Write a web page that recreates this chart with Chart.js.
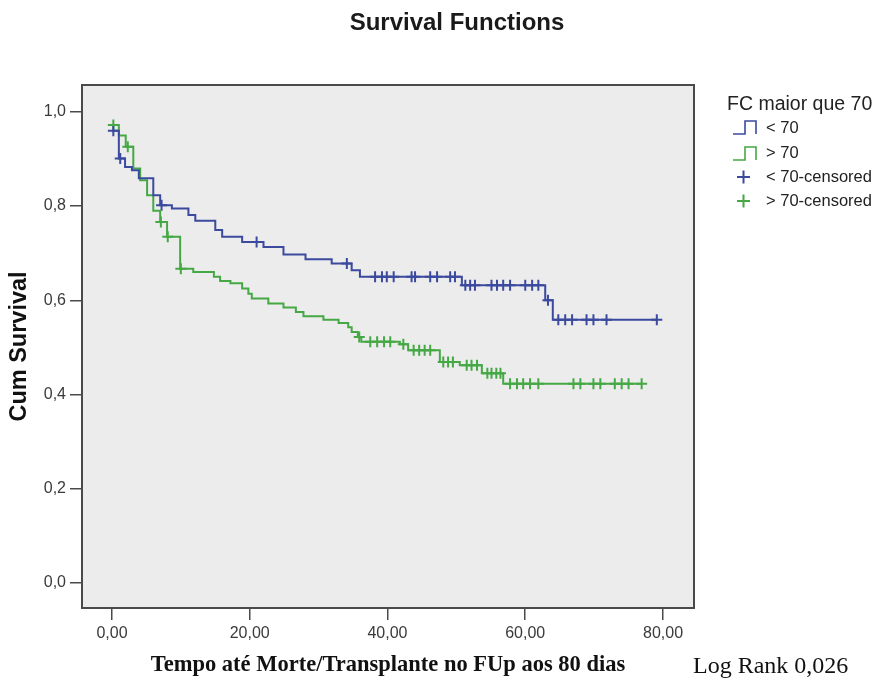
<!DOCTYPE html>
<html>
<head>
<meta charset="utf-8">
<title>Survival Functions</title>
<script src="https://cdn.jsdelivr.net/npm/chart.js@4.4.1/dist/chart.umd.min.js"></script>
<style>
    html, body { margin: 0; padding: 0; background: #ffffff; }
    #wrap { width: 880px; height: 686px; }
</style>
</head>
<body>
<div id="wrap"><canvas id="km" width="880" height="686"></canvas></div>
<script>
// Kaplan-Meier steps (time, survival after the step)
const blueTimes = [0, 1.0, 1.9, 2.9, 3.9, 6.0, 7.0, 8.7, 11.1, 12.1, 15.0, 16.0, 18.9, 22.0, 24.9, 28.1, 31.9, 34.8, 36.0, 50.8, 62.9, 64.0, 79.2];
const blueSurv = [0.960, 0.901, 0.883, 0.876, 0.859, 0.823, 0.802, 0.795, 0.781, 0.769, 0.749, 0.735, 0.724, 0.713, 0.697, 0.687, 0.678, 0.664, 0.650, 0.632, 0.600, 0.559, 0.559];
const blueCensored = [0.2, 1.2, 7.2, 21.0, 34.1, 38.2, 39.2, 39.9, 40.9, 43.5, 44.0, 46.2, 47.2, 49.1, 49.8, 51.3, 52.0, 52.7, 55.1, 55.9, 56.8, 57.8, 60.0, 61.0, 61.9, 63.3, 64.8, 65.8, 66.8, 68.9, 69.9, 71.8, 79.1];

const greenTimes = [0, 1.0, 2.0, 3.1, 4.1, 5.1, 6.0, 7.0, 8.0, 9.9, 11.8, 14.8, 15.7, 17.2, 18.9, 19.8, 20.3, 22.7, 24.9, 26.7, 27.8, 30.7, 32.9, 34.3, 34.8, 35.7, 36.2, 41.8, 43.0, 47.6, 50.5, 53.7, 56.8, 77.0];
const greenSurv = [0.972, 0.950, 0.926, 0.880, 0.855, 0.823, 0.790, 0.766, 0.735, 0.667, 0.660, 0.650, 0.641, 0.636, 0.625, 0.614, 0.604, 0.593, 0.585, 0.575, 0.566, 0.559, 0.552, 0.543, 0.533, 0.522, 0.512, 0.507, 0.494, 0.469, 0.462, 0.445, 0.423, 0.423];
const greenCensored = [0.2, 2.3, 7.1, 8.1, 10.0, 35.9, 37.5, 38.5, 39.5, 40.4, 42.3, 43.8, 44.6, 45.4, 46.2, 48.1, 48.8, 49.5, 51.5, 52.2, 53.0, 54.5, 55.1, 55.8, 56.4, 57.8, 58.8, 59.7, 60.7, 61.9, 67.0, 68.0, 69.9, 70.9, 73.0, 74.0, 75.0, 76.9];

const xTicks = [0, 20, 40, 60, 80];
const yTicks = [0, 0.2, 0.4, 0.6, 0.8, 1.0];

const groupLabels = ['< 70', '> 70'];
const legendTitle = 'FC maior que 70';

const BLUE = '#3b4a9e';
const GREEN = '#45a845';

// survival level of the curve at a censoring time
function levelAt(times, surv, t) {
    let s = surv[0];
    for (let i = 0; i < times.length; i++) {
        if (times[i] <= t) s = surv[i];
    }
    return s;
}

function toPoints(times, surv) {
    return times.map((t, i) => ({ x: t, y: surv[i] }));
}

function censorPoints(times, surv, cens) {
    return cens.map(t => ({ x: t, y: levelAt(times, surv, t) }));
}

const comma = (v, d) => v.toFixed(d).replace('.', ',');

// plot background, frame, title, legend, log rank note
const decorations = {
    id: 'decorations',
    beforeDatasetsDraw(chart) {
        const { ctx, chartArea: a } = chart;
        ctx.save();
        ctx.fillStyle = '#ececec';
        ctx.fillRect(a.left, a.top, a.right - a.left, a.bottom - a.top);
        ctx.restore();
    },
    afterDraw(chart) {
        const { ctx, chartArea: a } = chart;
        ctx.save();
        ctx.strokeStyle = '#4a4a4a';
        ctx.lineWidth = 2;
        ctx.strokeRect(a.left, a.top, a.right - a.left, a.bottom - a.top);

        // title
        ctx.fillStyle = '#1a1a1a';
        ctx.font = 'bold 24px "Liberation Sans", Arial, sans-serif';
        ctx.textAlign = 'center';
        ctx.textBaseline = 'alphabetic';
        ctx.fillText('Survival Functions', 457, 30);

        // log rank
        ctx.textBaseline = 'middle';
        ctx.font = '24px "Liberation Serif", "Times New Roman", serif';
        ctx.textAlign = 'left';
        ctx.fillStyle = '#111';
        ctx.fillText('Log Rank 0,026', 693, 667);

        // legend
        ctx.fillStyle = '#222';
        ctx.font = '19.5px "Liberation Sans", Arial, sans-serif';
        ctx.fillText(legendTitle, 727, 105);

        ctx.font = '16.5px "Liberation Sans", Arial, sans-serif';
        const colors = [BLUE, GREEN];
        ctx.lineWidth = 1.6;
        colors.forEach((c, i) => {
            const yb = 134 + i * 26, yt = 121 + i * 26;
            ctx.strokeStyle = c;
            ctx.beginPath();
            ctx.moveTo(733, yb);
            ctx.lineTo(745, yb);
            ctx.lineTo(745, yt);
            ctx.lineTo(756, yt);
            ctx.lineTo(756, yb);
            ctx.stroke();
            ctx.fillStyle = '#222';
            ctx.fillText(groupLabels[i], 766, 128 + i * 25);
        });
        colors.forEach((c, i) => {
            const cy = 177 + i * 24;
            ctx.strokeStyle = c;
            ctx.lineWidth = 2;
            ctx.beginPath();
            ctx.moveTo(737, cy);
            ctx.lineTo(750, cy);
            ctx.moveTo(743.5, cy - 6.5);
            ctx.lineTo(743.5, cy + 6.5);
            ctx.stroke();
            ctx.fillStyle = '#222';
            ctx.fillText(groupLabels[i] + '-censored', 766, cy);
        });
        ctx.restore();
    }
};

const tickFont = { family: '"Liberation Sans", Arial, sans-serif', size: 16 };

new Chart(document.getElementById('km'), {
    type: 'line',
    data: {
        datasets: [
            {
                label: groupLabels[0],
                data: toPoints(blueTimes, blueSurv),
                stepped: 'before',
                borderColor: BLUE,
                borderWidth: 2,
                pointRadius: 0,
                fill: false
            },
            {
                label: groupLabels[1],
                data: toPoints(greenTimes, greenSurv),
                stepped: 'before',
                borderColor: GREEN,
                borderWidth: 2,
                pointRadius: 0,
                fill: false
            },
            {
                label: groupLabels[0] + '-censored',
                data: censorPoints(blueTimes, blueSurv, blueCensored),
                showLine: false,
                pointStyle: 'cross',
                pointRadius: 5.5,
                pointBorderWidth: 2,
                borderColor: BLUE,
                pointBorderColor: BLUE
            },
            {
                label: groupLabels[1] + '-censored',
                data: censorPoints(greenTimes, greenSurv, greenCensored),
                showLine: false,
                pointStyle: 'cross',
                pointRadius: 5.5,
                pointBorderWidth: 2,
                borderColor: GREEN,
                pointBorderColor: GREEN
            }
        ]
    },
    options: {
        responsive: false,
        animation: false,
        layout: { padding: { top: 85, right: 186, left: 0, bottom: 0 } },
        plugins: {
            legend: { display: false },
            title: { display: false },
            tooltip: { enabled: false }
        },
        scales: {
            x: {
                type: 'linear',
                min: -4.35,
                max: 84.5,
                afterFit: s => { s.height = 78; },
                afterBuildTicks: s => { s.ticks = xTicks.map(v => ({ value: v })); },
                grid: { drawOnChartArea: false, drawTicks: true, tickLength: 12, color: '#4a4a4a', lineWidth: 1.5 },
                border: { display: false },
                ticks: {
                    padding: 4,
                    color: '#3a3a3a',
                    font: tickFont,
                    maxRotation: 0,
                    callback: v => comma(v, 2)
                },
                title: {
                    display: true,
                    text: 'Tempo até Morte/Transplante no FUp aos 80 dias',
                    color: '#111',
                    font: { family: '"Liberation Serif", "Times New Roman", serif', size: 22.5, weight: 'bold' },
                    padding: { top: 0, bottom: 7 }
                }
            },
            y: {
                type: 'linear',
                min: -0.053,
                max: 1.057,
                afterFit: s => { s.width = 82; },
                afterBuildTicks: s => { s.ticks = yTicks.map(v => ({ value: v })); },
                grid: { drawOnChartArea: false, drawTicks: true, tickLength: 12, color: '#4a4a4a', lineWidth: 1.5 },
                border: { display: false },
                ticks: {
                    padding: 4,
                    color: '#3a3a3a',
                    font: tickFont,
                    callback: v => comma(v, 1)
                },
                title: {
                    display: true,
                    text: 'Cum Survival',
                    color: '#111',
                    font: { family: '"Liberation Sans", Arial, sans-serif', size: 23.5, weight: 'bold' },
                    padding: { top: 5, bottom: 0 }
                }
            }
        }
    },
    plugins: [decorations]
});
</script>
</body>
</html>
